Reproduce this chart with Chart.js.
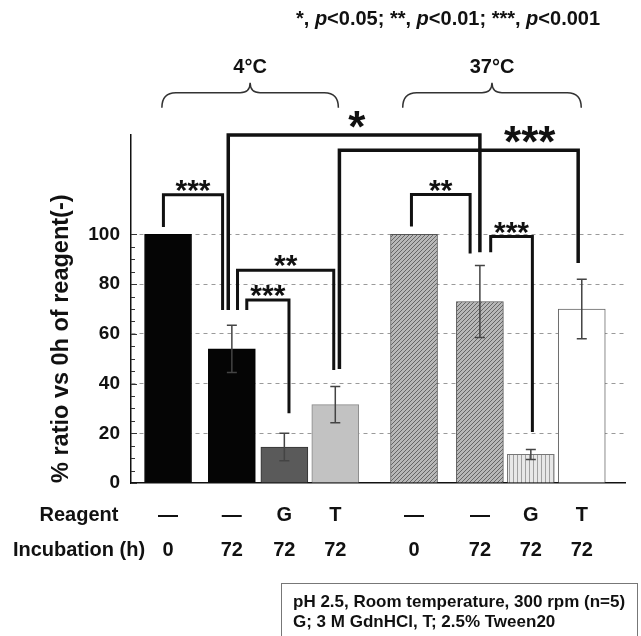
<!DOCTYPE html>
<html>
<head>
<meta charset="utf-8">
<script src="https://cdn.jsdelivr.net/npm/chart.js@4.4.0/dist/chart.umd.min.js"></script>
<style>
  html, body { margin: 0; background: #fff; }
  canvas { display: block; }
</style>
</head>
<body>
<canvas id="chart" width="641" height="636"></canvas>
<script>
// values
const reagents = ["—", "—", "G", "T", "—", "—", "G", "T"];
const incubation = ["0", "72", "72", "72", "0", "72", "72", "72"];
const ratio = [100, 54, 14.5, 31.5, 100, 73, 11.5, 70];
const errors = [0, 9.5, 5.5, 7.3, 0, 14.5, 2, 12];
const yLabelled = [0, 20, 40, 60, 80, 100];

// where each bar sits on the x axis (axis runs 0..9.6)
const slots = [0.72, 1.96, 2.98, 3.97, 5.5, 6.78, 7.77, 8.76];

// significance brackets: x left/right, y left/top/right, label, label x, big
const brackets = [
  [0.63, 1.78, 103, 116, 69.6, "***", null, false],
  [2.07, 3.94, 69.6, 85.6, 45.5, "**", null, false],
  [2.25, 3.07, 69.6, 73.6, 28.1, "***", null, false],
  [5.45, 6.59, 103.2, 116.1, 92.3, "**", null, false],
  [6.99, 7.8, 92.8, 99.2, 20.5, "***", null, false],
  [1.89, 6.78, 69.6, 140, 92.8, "*", 4.39, true],
  [4.05, 8.69, 45.9, 133.9, 88.5, "***", 7.75, true],
];
// temperature groups: from, to, label
const groups = [
  [0.6, 4.03, "4°C"],
  [5.28, 8.75, "37°C"],
];

const FONT = "'Liberation Sans', Arial, Helvetica, sans-serif";
Chart.defaults.font.family = FONT;
Chart.defaults.color = "#111";

const canvas = document.getElementById("chart");
const mainCtx = canvas.getContext("2d");

function pattern(bg, line, kind) {
  const c = document.createElement("canvas");
  c.width = 4; c.height = 4;
  const g = c.getContext("2d");
  g.fillStyle = bg;
  g.fillRect(0, 0, 4, 4);
  g.strokeStyle = line;
  g.lineWidth = 1;
  g.beginPath();
  if (kind === "diag") {
    g.moveTo(-1, 5); g.lineTo(5, -1);
    g.moveTo(-1, 1); g.lineTo(1, -1);
    g.moveTo(3, 5); g.lineTo(5, 3);
  } else {
    g.moveTo(1.5, 0); g.lineTo(1.5, 4);
  }
  g.stroke();
  return mainCtx.createPattern(c, "repeat");
}

const hatchGray = pattern("#b8b8b8", "#666", "diag");
const hatchLight = pattern("#e8e8e8", "#a0a0a0", "vert");

const fills = ["#050505", "#050505", "#5a5a5a", "#c2c2c2", hatchGray, hatchGray, hatchLight, "#ffffff"];
const borders = ["#000", "#000", "#333", "#888", "#555", "#555", "#777", "#666"];

function starText(ctx, text, cx, cy, size) {
  ctx.font = `bold ${size}px ${FONT}`;
  ctx.textAlign = "center";
  ctx.textBaseline = "alphabetic";
  ctx.fillText(text, cx, cy + size * 0.57);
}

const overlay = {
  id: "overlay",
  afterDatasetsDraw(chart) {
    const { ctx, scales: { x, y } } = chart;
    ctx.save();
    // error bars
    ctx.strokeStyle = "#444";
    ctx.lineWidth = 1.5;
    ratio.forEach((v, i) => {
      if (!errors[i]) return;
      const px = x.getPixelForValue(slots[i]);
      const t = y.getPixelForValue(v + errors[i]);
      const b = y.getPixelForValue(v - errors[i]);
      ctx.beginPath();
      ctx.moveTo(px, t); ctx.lineTo(px, b);
      ctx.moveTo(px - 5, t); ctx.lineTo(px + 5, t);
      ctx.moveTo(px - 5, b); ctx.lineTo(px + 5, b);
      ctx.stroke();
    });
    // inner ticks on the y axis
    ctx.strokeStyle = "#333";
    ctx.lineWidth = 1;
    for (let v = 0; v <= 100; v += 5) {
      const py = Math.round(y.getPixelForValue(v)) + 0.5;
      ctx.beginPath();
      ctx.moveTo(x.left, py);
      ctx.lineTo(x.left + (v % 20 === 0 ? 6 : 4), py);
      ctx.stroke();
    }
    ctx.restore();
  },
  afterDraw(chart) {
    const { ctx, scales: { x, y } } = chart;
    ctx.save();
    ctx.fillStyle = "#111";
    ctx.strokeStyle = "#111";
    ctx.lineJoin = "miter";

    // brackets
    brackets.forEach(([x1, x2, yl, yt, yr, label, lx, big]) => {
      const a = x.getPixelForValue(x1), b = x.getPixelForValue(x2);
      const top = y.getPixelForValue(yt);
      ctx.lineWidth = big ? 3.5 : 3;
      ctx.beginPath();
      ctx.moveTo(a, y.getPixelForValue(yl));
      ctx.lineTo(a, top);
      ctx.lineTo(b, top);
      ctx.lineTo(b, y.getPixelForValue(yr));
      ctx.stroke();
      const cx = lx === null ? (a + b) / 2 : x.getPixelForValue(lx);
      if (big) starText(ctx, label, cx, top - 18, 44);
      else starText(ctx, label, cx, top - 12, 30);
    });

    // braces and temperatures
    ctx.lineWidth = 1.5;
    ctx.strokeStyle = "#333";
    groups.forEach(([g1, g2, label]) => {
      const a = x.getPixelForValue(g1), b = x.getPixelForValue(g2);
      const m = (a + b) / 2;
      const yl = y.getPixelForValue(157), ye = y.getPixelForValue(151), yt = y.getPixelForValue(161);
      ctx.beginPath();
      ctx.moveTo(a, ye);
      ctx.quadraticCurveTo(a, yl, a + 14, yl);
      ctx.lineTo(m - 10, yl);
      ctx.quadraticCurveTo(m, yl, m, yt);
      ctx.quadraticCurveTo(m, yl, m + 10, yl);
      ctx.lineTo(b - 14, yl);
      ctx.quadraticCurveTo(b, yl, b, ye);
      ctx.stroke();
      ctx.font = `bold 20px ${FONT}`;
      ctx.textAlign = "center";
      ctx.textBaseline = "middle";
      ctx.fillText(label, m, y.getPixelForValue(167));
    });

    // row headings of the table under the axis
    ctx.font = `bold 20px ${FONT}`;
    ctx.textAlign = "center";
    ctx.textBaseline = "middle";
    ctx.fillText("Reagent", 79, x.top + 32);
    ctx.fillText("Incubation (h)", 79, x.top + 67);

    // p-value key
    const parts = [["*, ", false], ["p", true], ["<0.05; **, ", false], ["p", true], ["<0.01; ***, ", false], ["p", true], ["<0.001", false]];
    ctx.textAlign = "left";
    let tx = 296;
    parts.forEach(([s, it]) => {
      ctx.font = `${it ? "italic " : ""}bold 20px ${FONT}`;
      ctx.fillText(s, tx, 19);
      tx += ctx.measureText(s).width;
    });

    // conditions box
    ctx.strokeStyle = "#777";
    ctx.lineWidth = 1;
    ctx.strokeRect(281.5, 583.5, 356, 60);
    ctx.font = `bold 17px ${FONT}`;
    ctx.fillText("pH 2.5, Room temperature, 300 rpm (n=5)", 293, 602);
    ctx.fillText("G; 3 M GdnHCl, T; 2.5% Tween20", 293, 622);
    ctx.restore();
  },
};

new Chart(canvas, {
  type: "bar",
  data: {
    datasets: [
      {
        data: ratio.map((v, i) => ({ x: slots[i], y: v })),
        backgroundColor: fills,
        borderColor: borders,
        borderWidth: 1,
        barThickness: 47,
      },
    ],
  },
  options: {
    responsive: false,
    animation: false,
    devicePixelRatio: 1,
    layout: { padding: { left: 0, top: 135, right: 16, bottom: 0 } },
    plugins: { legend: { display: false }, tooltip: { enabled: false } },
    scales: {
      x: {
        type: "linear",
        min: 0,
        max: 9.6,
        offset: false,
        afterFit: (s) => { s.height = 153; },
        afterBuildTicks: (s) => { s.ticks = slots.map((v) => ({ value: v })); },
        grid: { color: "transparent", drawTicks: false },
        border: { color: "#111", width: 1.5 },
        ticks: {
          autoSkip: false,
          maxRotation: 0,
          padding: 14.5,
          color: "#111",
          font: { size: 20, weight: "bold", lineHeight: 1.75 },
          callback: (v, i) => [reagents[i], incubation[i]],
        },
      },
      y: {
        min: 0,
        max: 140,
        afterFit: (s) => { s.width = 131; },
        ticks: {
          stepSize: 20,
          padding: 11,
          color: "#111",
          font: { size: 19, weight: "bold" },
          callback: (v) => (yLabelled.includes(v) ? v : ""),
        },
        grid: {
          drawTicks: false,
          color: (c) => (c.tick && c.tick.value > 0 && c.tick.value <= 100 ? "#9a9a9a" : "transparent"),
          lineWidth: 1,
        },
        border: { color: "#111", width: 1.5, dash: [4, 4] },
        title: {
          display: true,
          text: "% ratio vs 0h of reagent(-)",
          align: "start",
          color: "#111",
          font: { size: 23.5, weight: "bold" },
          padding: { top: 47, bottom: 0 },
        },
      },
    },
  },
  plugins: [overlay],
});
</script>
</body>
</html>
